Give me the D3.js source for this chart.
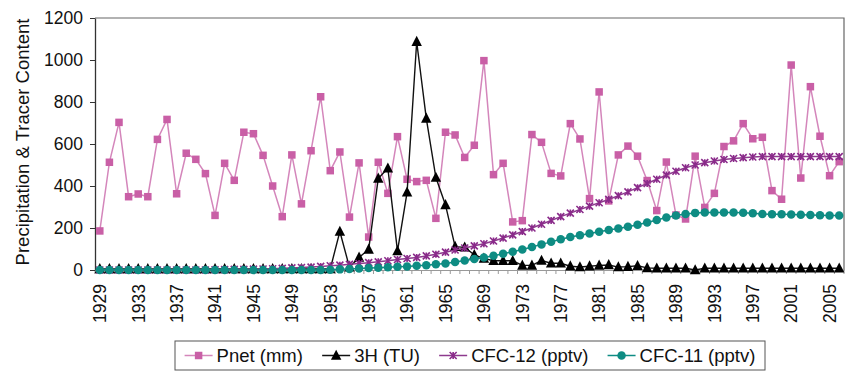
<!DOCTYPE html>
<html>
<head>
<meta charset="utf-8">
<script src="https://cdn.jsdelivr.net/npm/d3@7"></script>
<style>
  html, body { margin: 0; padding: 0; background: #fff; }
  svg { display: block; font-family: "Liberation Sans", Arial, sans-serif; }
</style>
</head>
<body>
<svg id="chart" width="847" height="376"></svg>
<script>
// Years 1929–2006
const years = d3.range(1929, 2007);

// Net precipitation (mm)
const pnet = [186, 513, 703, 349, 362, 349, 622, 717, 363, 556,
  527, 459, 260, 508, 427, 656, 649, 546, 400, 254,
  548, 315, 568, 825, 473, 562, 252, 510, 157, 513,
  365, 635, 432, 421, 427, 246, 656, 643, 536, 594,
  997, 454, 508, 229, 235, 645, 608, 460, 448, 697,
  624, 340, 848, 329, 548, 590, 542, 426, 283, 514,
  262, 243, 542, 298, 365, 588, 615, 697, 625, 632,
  378, 337, 976, 438, 873, 637, 449, 516];

// Tritium in precipitation (TU)
const tritium = [5, 5, 5, 5, 5, 5, 5, 5, 5, 5,
  5, 5, 5, 5, 5, 5, 5, 5, 5, 5,
  5, 5, 5, 5, 5, 183, 13, 60, 98, 436,
  484, 90, 370, 1087, 722, 440, 310, 111, 108, 72,
  55, 44, 44, 44, 22, 22, 45, 32, 32, 18,
  14, 18, 22, 24, 14, 16, 20, 10, 8, 8,
  8, 8, 0, 8, 8, 8, 8, 8, 8, 8,
  8, 8, 8, 8, 8, 8, 8, 8];

// Atmospheric CFC-12 (pptv)
const cfc12 = [0, 0, 0, 0, 0, 0, 0, 0, 0, 0,
  0, 0, 1, 2, 3, 3, 4, 5, 6, 8,
  10, 12, 14, 17, 20, 23, 27, 31, 35, 39,
  44, 50, 55, 60, 67, 75, 85, 95, 105, 115,
  125, 138, 152, 167, 183, 200, 218, 236, 254, 271,
  288, 304, 320, 336, 354, 372, 392, 412, 432, 452,
  470, 487, 500, 511, 519, 526, 531, 535, 538, 540,
  540, 540, 540, 540, 540, 540, 540, 540];

// Atmospheric CFC-11 (pptv)
const cfc11 = [0, 0, 0, 0, 0, 0, 0, 0, 0, 0,
  0, 0, 0, 0, 0, 0, 0, 0, 0, 0,
  0, 0, 0, 0, 1, 3, 5, 7, 9, 11,
  13, 15, 17, 20, 23, 27, 31, 38, 45, 52,
  60, 68, 77, 87, 98, 110, 122, 134, 146, 157,
  166, 174, 182, 190, 198, 206, 215, 226, 238, 250,
  260, 267, 272, 274, 274, 274, 274, 273, 270, 267,
  266, 265, 264, 263, 262, 261, 260, 259];

const yTicks = [0, 200, 400, 600, 800, 1000, 1200];
const xTickYears = years.filter(y => (y - 1929) % 4 === 0);

const series = [
  { name: "Pnet (mm)", values: pnet, line: "#d486bb", mark: "#c95fa6", shape: "square" },
  { name: "3H (TU)", values: tritium, line: "#111", mark: "#000", shape: "triangle" },
  { name: "CFC-12 (pptv)", values: cfc12, line: "#8e3a8e", mark: "#8a2a8a", shape: "star" },
  { name: "CFC-11 (pptv)", values: cfc11, line: "#0f8c84", mark: "#0e8c83", shape: "circle" }
];

const svg = d3.select("#chart");
const L = 95, R = 844, T = 18, B = 270;
const font = "'Liberation Sans', Arial, sans-serif";

const x = d3.scaleBand().domain(years).range([L, R]).padding(0);
const y = d3.scaleLinear().domain([0, 1200]).range([B, T]);
const cx = d => x(d) + x.bandwidth() / 2;

// Plot frame (top and right edges)
svg.append("path")
  .attr("d", `M${L},${T}H${R}V${B}`)
  .attr("fill", "none").attr("stroke", "#666").attr("stroke-width", 1.2);

// Category tick marks along the x axis
svg.append("g").selectAll("line")
  .data(d3.range(years.length + 1))
  .join("line")
  .attr("x1", i => L + i * x.bandwidth()).attr("x2", i => L + i * x.bandwidth())
  .attr("y1", B).attr("y2", B + 4)
  .attr("stroke", "#999").attr("stroke-width", 1);

// X axis with rotated year labels
const xAxis = svg.append("g").attr("transform", `translate(0,${B})`)
  .call(d3.axisBottom(x).tickValues(xTickYears).tickSize(0).tickSizeOuter(0));
xAxis.select(".domain").attr("stroke", "#999").attr("stroke-width", 1.2);
xAxis.selectAll("text")
  .attr("transform", "rotate(-90)")
  .attr("x", -14).attr("y", 0).attr("dy", "0.36em")
  .attr("text-anchor", "end")
  .attr("font-size", 17.5).attr("fill", "#111")
  .attr("font-family", font);

// Y axis
const yAxis = svg.append("g").attr("transform", `translate(${L},0)`)
  .call(d3.axisLeft(y).tickValues(yTicks).tickSize(5).tickPadding(7).tickSizeOuter(0).tickFormat(d3.format("d")));
yAxis.select(".domain").attr("stroke", "#333").attr("stroke-width", 1.3);
yAxis.selectAll(".tick line").attr("stroke", "#333");
yAxis.selectAll("text")
  .attr("font-size", 17.5).attr("fill", "#111")
  .attr("font-family", font);

// Y axis title
svg.append("text")
  .attr("transform", `translate(22,${(T + B) / 2 - 2}) rotate(-90)`)
  .attr("text-anchor", "middle").attr("dy", "0.36em")
  .attr("font-size", 18.5).attr("fill", "#111")
  .text("Precipitation & Tracer Content");

// Marker drawing
function drawMarker(g, shape, color, size) {
  const s = size;
  if (shape === "square") {
    g.append("rect").attr("x", -s / 2).attr("y", -s / 2).attr("width", s).attr("height", s).attr("fill", color);
  } else if (shape === "triangle") {
    const h = s * 1.05;
    g.append("path").attr("d", `M0,${-h * 0.62}L${s * 0.58},${h * 0.45}L${-s * 0.58},${h * 0.45}Z`).attr("fill", color);
  } else if (shape === "circle") {
    g.append("circle").attr("r", s / 2).attr("fill", color);
  } else if (shape === "star") {
    const a = s / 2;
    g.append("path")
      .attr("d", `M${-a},${-a}L${a},${a}M${-a},${a}L${a},${-a}M0,${-a}V${a}`)
      .attr("stroke", color).attr("stroke-width", 1.6).attr("fill", "none");
  }
}

const sizes = { square: 7.5, triangle: 9, circle: 8.5, star: 7 };

series.forEach(s => {
  const line = d3.line().x((d, i) => cx(years[i])).y(d => y(d));
  svg.append("path").datum(s.values)
    .attr("d", line).attr("fill", "none")
    .attr("stroke", s.line).attr("stroke-width", s.shape === "triangle" ? 1.4 : 1.5);
  const g = svg.append("g");
  s.values.forEach((v, i) => {
    const m = g.append("g").attr("transform", `translate(${cx(years[i])},${y(v)})`);
    drawMarker(m, s.shape, s.mark, sizes[s.shape]);
  });
});

// Legend
const lgX0 = 175, lgX1 = 765, lgY0 = 341, lgY1 = 370;
svg.append("rect").attr("x", lgX0).attr("y", lgY0).attr("width", lgX1 - lgX0).attr("height", lgY1 - lgY0)
  .attr("fill", "#fff").attr("stroke", "#555").attr("stroke-width", 1);
const lg = svg.append("g");
const sampleW = 28, textGap = 4;
const items = series.map(s => {
  const t = lg.append("text").attr("font-size", 18.5).attr("fill", "#111").attr("font-family", font).text(s.name);
  return { s, t, w: t.node().getComputedTextLength() };
});
const used = d3.sum(items, d => sampleW + textGap + d.w);
const gap = (lgX1 - lgX0 - used) / items.length;
let cursor = lgX0 + gap / 2;
const cyL = (lgY0 + lgY1) / 2;
items.forEach(d => {
  lg.append("line").attr("x1", cursor).attr("x2", cursor + sampleW)
    .attr("y1", cyL).attr("y2", cyL).attr("stroke", d.s.line).attr("stroke-width", 1.5);
  const m = lg.append("g").attr("transform", `translate(${cursor + sampleW / 2},${cyL})`);
  drawMarker(m, d.s.shape, d.s.mark, sizes[d.s.shape]);
  d.t.attr("x", cursor + sampleW + textGap).attr("y", cyL).attr("dy", "0.36em");
  cursor += sampleW + textGap + d.w + gap;
});
</script>
</body>
</html>
